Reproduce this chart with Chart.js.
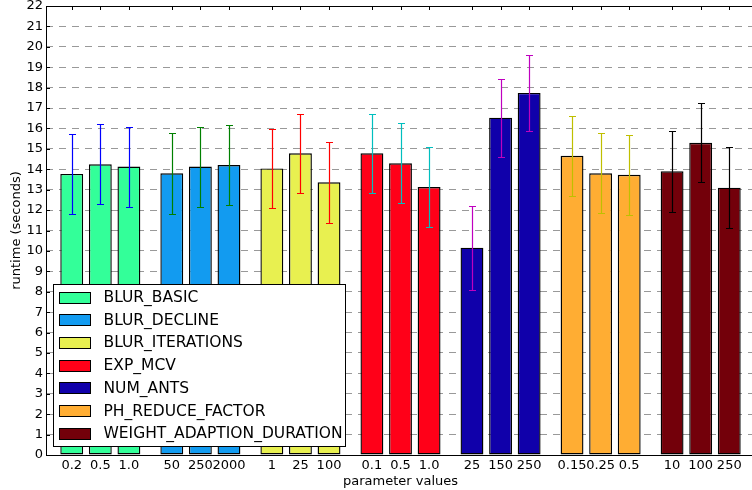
<!DOCTYPE html>
<html>
<head>
<meta charset="utf-8">
<script src="https://cdn.jsdelivr.net/npm/chart.js"></script>
<style>
  html, body { margin: 0; padding: 0; background: #fff; overflow: hidden; }
</style>
</head>
<body>
<canvas id="runtimeChart" width="760" height="490"></canvas>
<script>
// groups (one per parameter) and the values tried for each
const groups = ['BLUR_BASIC', 'BLUR_DECLINE', 'BLUR_ITERATIONS', 'EXP_MCV', 'NUM_ANTS', 'PH_REDUCE_FACTOR', 'WEIGHT_ADAPTION_DURATION'];
const groupColors = ['#33ff99', '#129bf0', '#e8f050', '#ff0018', '#1000aa', '#ffad33', '#73000a'];
const errorColors = ['#0000ff', '#008000', '#ff0000', '#00bfbf', '#bf00bf', '#bfbf00', '#000000'];
const paramLabels = ['0.2', '0.5', '1.0', '50', '250', '2000', '1', '25', '100', '0.1', '0.5', '1.0',
                     '25', '150', '250', '0.15', '0.25', '0.5', '10', '100', '250'];
const means = [13.77, 14.24, 14.13, 13.80, 14.13, 14.21, 14.04, 14.78, 13.36, 14.78, 14.29, 13.13,
               10.16, 16.53, 17.74, 14.66, 13.80, 13.73, 13.90, 15.30, 13.10];
const errors = [1.97, 1.96, 1.96, 1.98, 1.96, 1.96, 1.95, 1.94, 1.98, 1.95, 1.96, 1.98,
                2.06, 1.91, 1.87, 1.96, 1.96, 1.97, 1.97, 1.93, 1.98];

const barsPerGroup = 3;
const groupStep = 3.5;
const xPos = paramLabels.map((_, i) => Math.floor(i / barsPerGroup) * groupStep + i % barsPerGroup);

Chart.defaults.font.family = "'DejaVu Sans', sans-serif";
Chart.defaults.font.size = 13;
Chart.defaults.color = '#000';

const datasets = groups.map((name, g) => ({
    label: name,
    data: [0, 1, 2].map(j => {
        const i = g * barsPerGroup + j;
        return { x: xPos[i], y: means[i] };
    }),
    backgroundColor: groupColors[g],
    borderColor: '#000',
    borderWidth: 1.4,
    borderSkipped: false,
    grouped: false,
    categoryPercentage: 1,
    barPercentage: 0.8
}));

// error bars, frame, inward ticks and the legend box
const extras = {
    id: 'extras',
    afterDatasetsDraw(chart) {
        const ctx = chart.ctx;
        const xs = chart.scales.x, ys = chart.scales.y;
        ctx.save();
        ctx.lineWidth = 1.2;
        means.forEach((m, i) => {
            const g = Math.floor(i / barsPerGroup);
            const x = Math.round(xs.getPixelForValue(xPos[i])) + 0.5;
            const yt = Math.round(ys.getPixelForValue(m + errors[i])) + 0.5;
            const yb = Math.round(ys.getPixelForValue(m - errors[i])) + 0.5;
            ctx.strokeStyle = errorColors[g];
            ctx.beginPath();
            ctx.moveTo(x, yt); ctx.lineTo(x, yb);
            ctx.moveTo(x - 3.5, yt); ctx.lineTo(x + 3.5, yt);
            ctx.moveTo(x - 3.5, yb); ctx.lineTo(x + 3.5, yb);
            ctx.stroke();
        });
        ctx.restore();
    },
    afterDraw(chart) {
        const ctx = chart.ctx;
        const a = chart.chartArea;
        const xs = chart.scales.x, ys = chart.scales.y;
        ctx.save();
        ctx.strokeStyle = '#000';
        ctx.lineWidth = 1;
        // ticks pointing inward
        ctx.beginPath();
        for (let v = 1; v < 22; v++) {
            const y = Math.round(ys.getPixelForValue(v)) + 0.5;
            ctx.moveTo(a.left, y); ctx.lineTo(a.left + 4, y);
        }
        xPos.forEach(v => {
            const x = Math.round(xs.getPixelForValue(v)) + 0.5;
            ctx.moveTo(x, a.top); ctx.lineTo(x, a.top + 4);
        });
        ctx.stroke();
        // frame
        ctx.strokeRect(Math.round(a.left) + 0.5, Math.round(a.top) + 0.5,
                       Math.round(a.right - a.left), Math.round(a.bottom - a.top));

        // legend
        const bx = Math.round(a.left) + 7.5, by = Math.round(a.bottom) - 170.5;
        const bw = 292, bh = 162;
        ctx.fillStyle = '#fff';
        ctx.fillRect(bx, by, bw, bh);
        ctx.strokeRect(bx, by, bw, bh);
        ctx.font = "15.5px 'DejaVu Sans'";
        ctx.textBaseline = 'middle';
        groups.forEach((name, g) => {
            const cy = by + 12.5 + g * 22.7;
            ctx.fillStyle = groupColors[g];
            ctx.fillRect(bx + 6, Math.round(cy - 5.5) + 0.5, 31, 11);
            ctx.strokeRect(bx + 6, Math.round(cy - 5.5) + 0.5, 31, 11);
            ctx.fillStyle = '#000';
            ctx.fillText(name, bx + 50, cy + 1);
        });
        ctx.restore();
    }
};

new Chart(document.getElementById('runtimeChart'), {
    type: 'bar',
    data: { datasets: datasets },
    plugins: [extras],
    options: {
        responsive: false,
        animation: false,
        layout: { padding: { top: 6, right: 5, left: 0, bottom: 0 } },
        plugins: { legend: { display: false }, tooltip: { enabled: false } },
        scales: {
            x: {
                type: 'linear',
                offset: false,
                min: -0.9,
                max: 23.9,
                grid: { display: false, drawTicks: false },
                border: { display: false },
                afterBuildTicks: scale => { scale.ticks = xPos.map(v => ({ value: v })); },
                afterFit: scale => { scale.height = 35; scale.paddingLeft = 0; scale.paddingRight = 0; },
                ticks: {
                    autoSkip: false,
                    maxRotation: 0,
                    padding: 3,
                    callback: v => {
                        const i = xPos.indexOf(v);
                        return i >= 0 ? paramLabels[i] : '';
                    }
                },
                title: { display: true, text: 'parameter values', padding: { top: 0, bottom: 1 } }
            },
            y: {
                min: 0,
                max: 22,
                grid: { color: '#999', drawTicks: false },
                border: { display: false, dash: [7, 6] },
                afterFit: scale => { scale.width = 46; scale.paddingTop = 0; scale.paddingBottom = 0; },
                ticks: { stepSize: 1, padding: 3 },
                title: { display: true, text: 'runtime (seconds)', padding: { top: 9, bottom: 0 } }
            }
        }
    }
});
</script>
</body>
</html>
